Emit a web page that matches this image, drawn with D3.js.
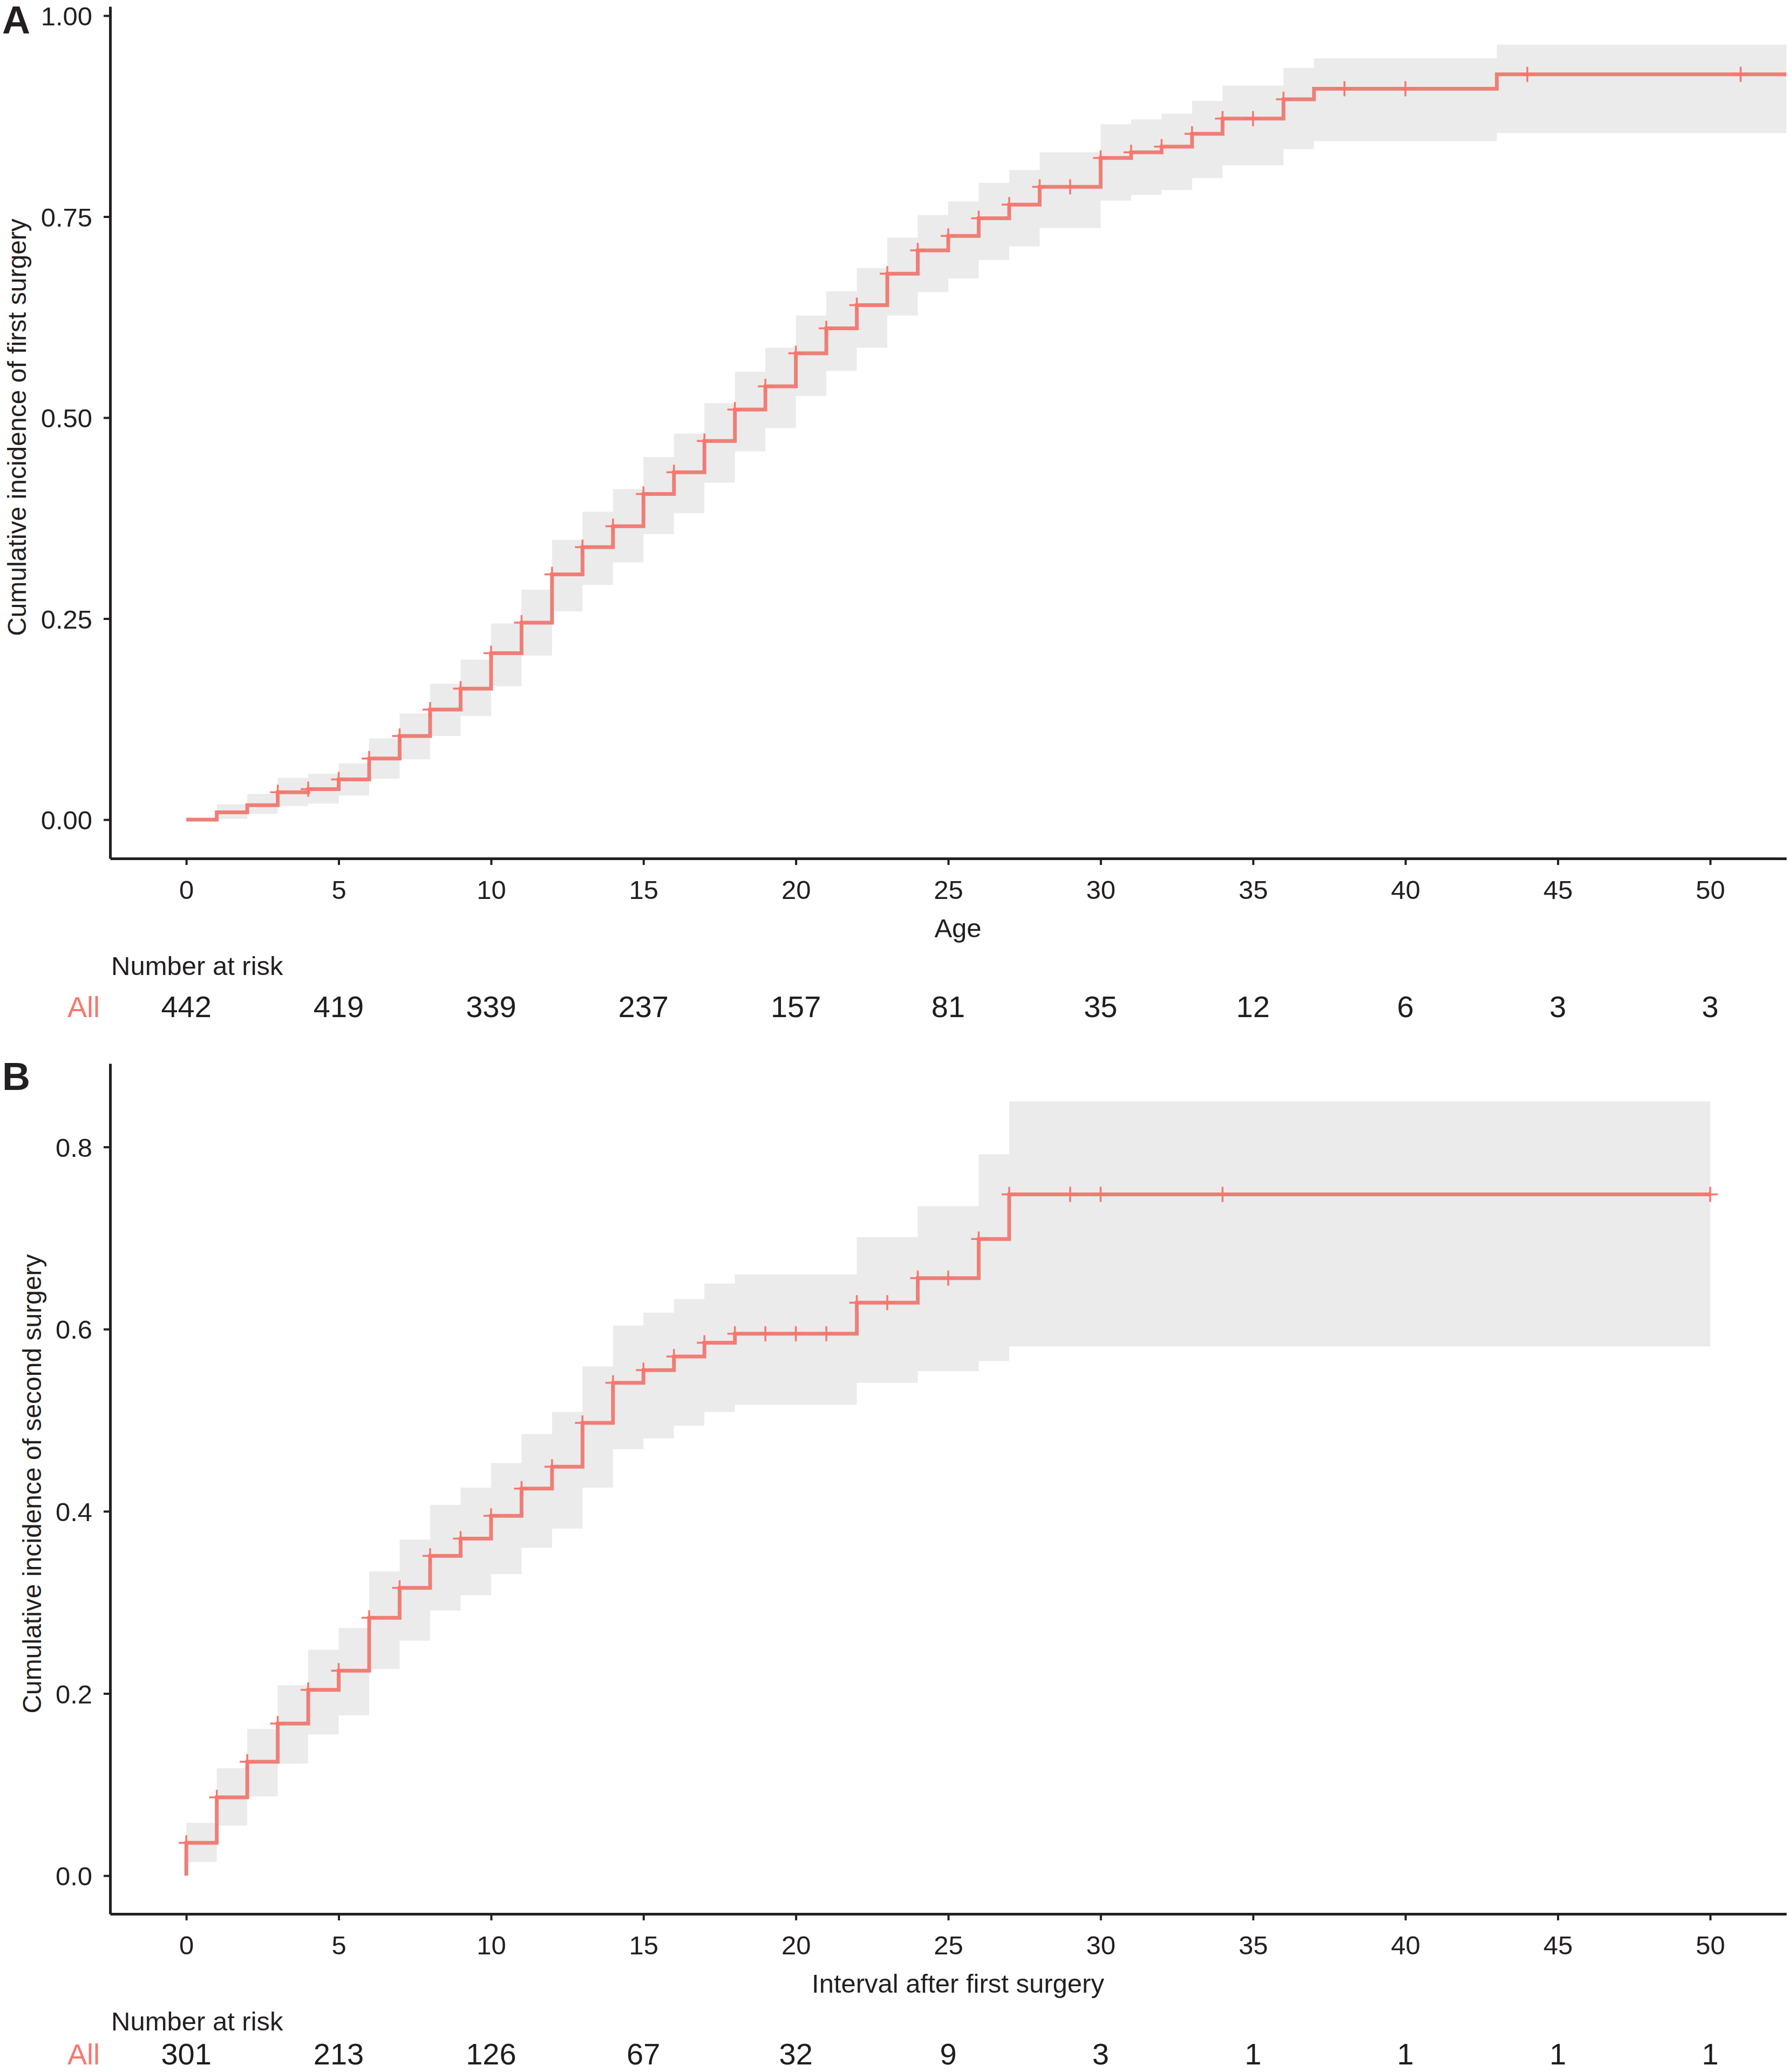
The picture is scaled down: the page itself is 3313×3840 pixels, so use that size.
<!DOCTYPE html>
<html>
<head>
<meta charset="utf-8">
<script src="https://cdnjs.cloudflare.com/ajax/libs/d3/7.8.5/d3.min.js"></script>
<style>
body { margin: 0; background: #fff; }
text { font-family: "Liberation Sans", Arial, sans-serif; }
</style>
</head>
<body>
<script>
// ---- Panel A: cumulative incidence of first surgery by age ----
var timesA = [0, 1, 2, 3, 4, 5, 6, 7, 8, 9, 10, 11, 12, 13, 14, 15, 16, 17, 18, 19, 20,
              21, 22, 23, 24, 25, 26, 27, 28, 30, 31, 32, 33, 34, 36, 37, 43];
var estA   = [0.000, 0.009, 0.018, 0.034, 0.038, 0.050, 0.076, 0.104, 0.137, 0.163, 0.207,
              0.245, 0.305, 0.339, 0.365, 0.405, 0.432, 0.471, 0.510, 0.539, 0.580,
              0.611, 0.640, 0.679, 0.708, 0.726, 0.748, 0.765, 0.787, 0.823, 0.830,
              0.837, 0.853, 0.872, 0.896, 0.909, 0.927];
var upperA = [0.000, 0.019, 0.032, 0.052, 0.057, 0.070, 0.101, 0.132, 0.169, 0.199, 0.244,
              0.286, 0.348, 0.383, 0.411, 0.451, 0.480, 0.518, 0.557, 0.587, 0.627,
              0.657, 0.686, 0.724, 0.752, 0.769, 0.792, 0.808, 0.830, 0.865, 0.871,
              0.878, 0.894, 0.913, 0.935, 0.947, 0.964];
var lowerA = [0.000, 0.001, 0.007, 0.017, 0.020, 0.030, 0.051, 0.075, 0.104, 0.129, 0.166,
              0.204, 0.259, 0.292, 0.320, 0.355, 0.381, 0.419, 0.458, 0.487, 0.527,
              0.558, 0.587, 0.627, 0.656, 0.673, 0.696, 0.713, 0.736, 0.770, 0.777,
              0.783, 0.798, 0.814, 0.834, 0.844, 0.854];
var endA = 52.5;
var censorA = [3, 4, 5, 6, 7, 8, 9, 10, 11, 12, 13, 14, 15, 16, 17, 18, 19, 20, 21, 22, 23,
               24, 25, 26, 27, 28, 29, 30, 31, 32, 33, 34, 35, 36, 38, 40, 44, 51];
var riskA = [442, 419, 339, 237, 157, 81, 35, 12, 6, 3, 3];

// ---- Panel B: cumulative incidence of second surgery after the first ----
var timesB = [0, 1, 2, 3, 4, 5, 6, 7, 8, 9, 10, 11, 12, 13, 14, 15, 16, 17, 18, 22, 24, 26, 27];
var estB   = [0.036, 0.086, 0.125, 0.167, 0.204, 0.225, 0.283, 0.316, 0.351, 0.370, 0.395,
              0.425, 0.449, 0.497, 0.541, 0.555, 0.570, 0.585, 0.595, 0.629, 0.656, 0.699, 0.748];
var upperB = [0.058, 0.118, 0.161, 0.209, 0.248, 0.272, 0.334, 0.369, 0.407, 0.426, 0.453,
              0.485, 0.509, 0.559, 0.604, 0.618, 0.633, 0.650, 0.660, 0.701, 0.735, 0.792, 0.850];
var lowerB = [0.015, 0.055, 0.087, 0.123, 0.155, 0.176, 0.227, 0.258, 0.291, 0.308, 0.331,
              0.360, 0.381, 0.426, 0.468, 0.480, 0.494, 0.509, 0.517, 0.541, 0.554, 0.565, 0.581];
var endB = 50;
var censorB = [0, 1, 2, 3, 4, 5, 6, 7, 8, 9, 10, 11, 12, 13, 14, 15, 16, 17, 18, 19, 20,
               21, 22, 23, 24, 25, 26, 27, 29, 30, 34, 50];
var riskB = [301, 213, 126, 67, 32, 9, 3, 1, 1, 1, 1];

var xTicks  = [0, 5, 10, 15, 20, 25, 30, 35, 40, 45, 50];
var yTicksA = [0, 0.25, 0.5, 0.75, 1];
var yTicksB = [0, 0.2, 0.4, 0.6, 0.8];

var W = 3313, H = 3840;
var ink = "#231f20";
var lineColor = "#ee7f77";
var censorColor = "#f8766d";
var bandColor = "#ebebeb";

var svg = d3.select("body")
            .append("svg")
            .attr("width", W)
            .attr("height", H);

var x = d3.scaleLinear().domain([-2.5, 52.5]).range([204, 3310]);

function drawPanel(p) {
  var y = d3.scaleLinear().domain(p.yDomain).range([p.bottom, p.top]);
  var g = svg.append("g");

  g.append("clipPath").attr("id", "clip" + p.letter)
   .append("rect")
   .attr("x", x.range()[0]).attr("y", p.top)
   .attr("width", W - x.range()[0]).attr("height", p.bottom - p.top);

  // step points, with the last value carried to the end time
  var pts = p.times.map(function(t, i) {
    return { t: t, v: p.est[i], lo: p.lower[i], hi: p.upper[i] };
  });
  var last = pts[pts.length - 1];
  pts.push({ t: p.end, v: last.v, lo: last.lo, hi: last.hi });

  var plot = g.append("g").attr("clip-path", "url(#clip" + p.letter + ")");

  plot.append("path")
      .datum(pts)
      .attr("fill", bandColor)
      .attr("d", d3.area().curve(d3.curveStepAfter)
                  .x(function(d) { return x(d.t); })
                  .y0(function(d) { return y(d.lo); })
                  .y1(function(d) { return y(d.hi); }));

  var linePts = [{ t: 0, v: 0 }].concat(pts);
  plot.append("path")
      .datum(linePts)
      .attr("fill", "none")
      .attr("stroke", lineColor)
      .attr("stroke-width", 7)
      .attr("d", d3.line().curve(d3.curveStepAfter)
                  .x(function(d) { return x(d.t); })
                  .y(function(d) { return y(d.v); }));

  // censor marks
  var s = 14;
  plot.selectAll("path.cens")
      .data(p.censors)
      .enter()
      .append("path")
      .attr("class", "cens")
      .attr("fill", "none")
      .attr("stroke", censorColor)
      .attr("stroke-width", 3.5)
      .attr("d", function(c) {
        var i = d3.bisectRight(p.times, c) - 1;
        var cx = x(c), cy = y(p.est[i]);
        return "M" + (cx - s) + "," + cy + "H" + (cx + s) +
               "M" + cx + "," + (cy - s) + "V" + (cy + s);
      });

  // axes
  var xa = g.append("g")
            .attr("transform", "translate(0," + p.bottom + ")")
            .call(d3.axisBottom(x).tickValues(xTicks).tickSize(12).tickSizeOuter(0).tickPadding(28));
  var ya = g.append("g")
            .attr("transform", "translate(" + x.range()[0] + ",0)")
            .call(d3.axisLeft(y).tickValues(p.yTicks).tickFormat(d3.format(p.yFmt))
                  .tickSize(12).tickSizeOuter(0).tickPadding(21));
  [xa, ya].forEach(function(a) {
    a.select(".domain").attr("stroke", ink).attr("stroke-width", 5);
    a.selectAll(".tick line").attr("stroke", ink).attr("stroke-width", 4);
    a.selectAll(".tick text").attr("fill", ink).style("font-size", "49px")
     .style("font-family", "'Liberation Sans', Arial, sans-serif");
  });
  ya.selectAll(".tick text").attr("dy", "0.36em");

  // titles
  g.append("text")
   .attr("x", 4).attr("y", p.letterY)
   .attr("fill", ink)
   .style("font-size", "72px").style("font-weight", "bold")
   .text(p.letter);

  g.append("text")
   .attr("transform", "translate(" + p.yTitleX + "," + p.yTitleY + ") rotate(-90)")
   .attr("text-anchor", "middle")
   .attr("fill", ink)
   .style("font-size", "48px")
   .text(p.yTitle);

  g.append("text")
   .attr("x", 1775).attr("y", p.xTitleY)
   .attr("text-anchor", "middle")
   .attr("fill", ink)
   .style("font-size", "49px")
   .text(p.xTitle);

  // number at risk table
  g.append("text")
   .attr("x", 206).attr("y", p.narY)
   .attr("fill", ink)
   .style("font-size", "49px")
   .text("Number at risk");

  g.append("text")
   .attr("x", 185).attr("y", p.riskY)
   .attr("text-anchor", "end")
   .attr("fill", censorColor)
   .style("font-size", "54px")
   .text("All");

  g.selectAll("text.risk")
   .data(p.risk)
   .enter()
   .append("text")
   .attr("class", "risk")
   .attr("x", function(d, i) { return x(xTicks[i]); })
   .attr("y", p.riskY)
   .attr("text-anchor", "middle")
   .attr("fill", "#1e1e1e")
   .style("font-size", "56px")
   .text(function(d) { return d; });
}

drawPanel({
  letter: "A", times: timesA, est: estA, upper: upperA, lower: lowerA, end: endA,
  censors: censorA, risk: riskA, yTicks: yTicksA, yFmt: ".2f",
  yDomain: [-0.0483, 1.0114], top: 12, bottom: 1591,
  letterY: 62, yTitleX: 48, yTitleY: 792,
  yTitle: "Cumulative incidence of first surgery",
  xTitle: "Age", xTitleY: 1737, narY: 1807, riskY: 1885
});

drawPanel({
  letter: "B", times: timesB, est: estB, upper: upperB, lower: lowerB, end: endB,
  censors: censorB, risk: riskB, yTicks: yTicksB, yFmt: ".1f",
  yDomain: [-0.042, 0.8916], top: 1971, bottom: 3547,
  letterY: 2020, yTitleX: 76, yTitleY: 2750,
  yTitle: "Cumulative incidence of second surgery",
  xTitle: "Interval after first surgery", xTitleY: 3693, narY: 3763, riskY: 3826
});
</script>
</body>
</html>
